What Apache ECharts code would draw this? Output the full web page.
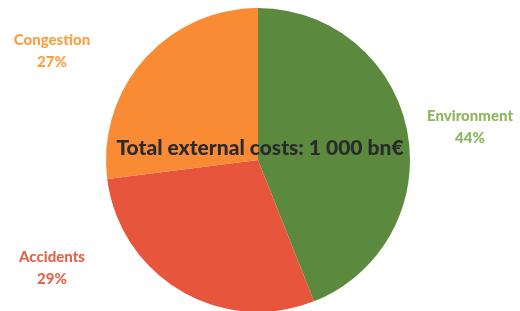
<!DOCTYPE html>
<html style="height: 100%">
<head>
  <meta charset="UTF-8" />
  <title>External costs</title>
  <script src="https://cdn.jsdelivr.net/npm/echarts@6/dist/echarts.min.js"></script>
</head>
<body style="height: 100%; margin: 0; background: #fff">
  <div id="container" style="width: 520px; height: 311px"></div>
  <script>
    const categories = ['Environment', 'Accidents', 'Congestion'];
    const shares = [44, 29, 27];
    const sliceColors = ['#5b8a3f', '#e6553c', '#fa8b35'];
    const labelColors = ['#8cb65a', '#e3664a', '#f9a041'];
    // where each outside label sits
    const labelPos = [[470, 127], [52, 268], [52, 51]];

    const chart = echarts.init(document.getElementById('container'), null, { renderer: 'canvas' });
    const option = {
      animation: false,
      title: {
        text: 'Total external costs: 1 000 bn€',
        left: 'center',
        top: 133,
        textStyle: {
          fontFamily: 'Lato',
          fontWeight: 900,
          fontSize: 21,
          color: '#2a2a2a'
        }
      },
      series: [{
        type: 'pie',
        center: [258, 160],
        radius: 152,
        startAngle: 90,
        clockwise: true,
        data: categories.map((c, i) => ({
          name: c,
          value: shares[i],
          itemStyle: { color: sliceColors[i] },
          label: { color: labelColors[i] }
        })),
        label: {
          show: true,
          position: 'outside',
          formatter: p => p.name + '\n' + p.value + '%',
          fontFamily: 'Lato',
          fontWeight: 900,
          fontSize: 15,
          lineHeight: 22,
          align: 'center',
          overflow: 'none'
        },
        labelLine: { show: false },
        labelLayout: p => ({
          x: labelPos[p.dataIndex][0],
          y: labelPos[p.dataIndex][1],
          align: 'center',
          verticalAlign: 'middle'
        })
      }]
    };
    chart.setOption(option);
  </script>
</body>
</html>
